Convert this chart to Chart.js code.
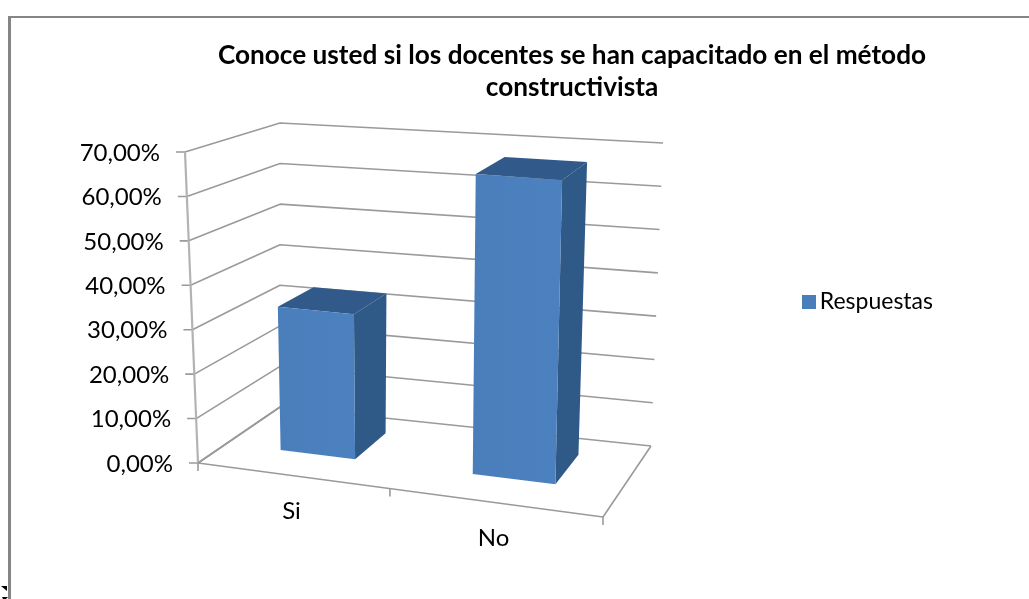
<!DOCTYPE html>
<html><head><meta charset="utf-8">
<script src="https://cdn.jsdelivr.net/npm/chart.js@4"></script>
<style>html,body{margin:0;padding:0;background:#fff;overflow:hidden}canvas{display:block;filter:blur(.4px)}</style>
</head><body><canvas id="c" width="1029" height="599"></canvas>
<script>
const categories = ['Si', 'No'];
const respuestas = [33, 67];
const seriesName = 'Respuestas';
const yMin = 0, yMax = 70, yStep = 10;
const titleLines = ['Conoce usted si los docentes se han capacitado en el método', 'constructivista'];

const FONT = 'Lato';
const SERIES_COLOR = '#4a7ebb';
const BOX = {
  flb:[198,463], frb:[603,517], blb:[280,407], brb:[651,446],
  flt:[185,152], frt:[612,187], blt:[280,123], brt:[663,143]
};
const PERSPECTIVE = 1.11;
function project(u0, v, w){
  const u=u0/(u0+(1-u0)*PERSPECTIVE);
  const m=(a,b,t)=>[a[0]+(b[0]-a[0])*t, a[1]+(b[1]-a[1])*t];
  const fb=m(BOX.flb,BOX.frb,u), bb=m(BOX.blb,BOX.brb,u), ft=m(BOX.flt,BOX.frt,u), bt=m(BOX.blt,BOX.brt,u);
  return m(m(fb,bb,w), m(ft,bt,w), v);
}
function poly(ctx, pts, fill){
  ctx.beginPath(); pts.forEach((p,i)=>i?ctx.lineTo(p[0],p[1]):ctx.moveTo(p[0],p[1])); ctx.closePath();
  ctx.fillStyle=fill; ctx.fill();
}
function line(ctx, pts, color, width){
  ctx.beginPath(); pts.forEach((p,i)=>i?ctx.lineTo(p[0],p[1]):ctx.moveTo(p[0],p[1]));
  ctx.strokeStyle=color; ctx.lineWidth=width; ctx.stroke();
}
const GRID='#9a9a9a';
const box3d = {
  id:'box3d',
  beforeDraw(chart){
    const ctx=chart.ctx; ctx.save();
    ctx.fillStyle='#fff'; ctx.fillRect(0,0,chart.width,chart.height);
    ctx.fillStyle='#858585';
    ctx.fillRect(8,16,chart.width-8,2);
    ctx.fillRect(8,16,3,chart.height-16);
    poly(ctx,[[1,586],[7,586],[7,591]],'#000');
    poly(ctx,[[2,597],[8,597],[6,599],[3,599]],'#000');
    ctx.restore();
  },
  beforeDatasetsDraw(chart){
    const ctx=chart.ctx, ys=chart.scales.y, xs=chart.scales.x, a=chart.chartArea;
    const vOf=val=>(a.bottom-ys.getPixelForValue(val))/(a.bottom-a.top);
    ctx.save();
    ctx.lineJoin='round';
    ys.ticks.forEach(t=>{
      const v=vOf(t.value);
      const p0=project(0,v,0);
      line(ctx,[[p0[0]-9,p0[1]],p0,project(0,v,1),project(1,v,1)],GRID,1.6);
      ctx.fillStyle='#000'; ctx.font='24px '+FONT; ctx.textAlign='right'; ctx.textBaseline='middle';
      ctx.fillText(t.label,p0[0]-25,p0[1]+1);
    });
    line(ctx,[project(0,0,0),project(0,1,0)],'#b3b3b3',2.2);
    line(ctx,[project(0,0,0),project(1,0,0),project(1,0,1)],GRID,1.6);
    line(ctx,[project(0,0,0),project(0,0,1)],GRID,1.6);
    xs.ticks.forEach((t,i)=>{
      const c=(xs.getPixelForTick(i)-a.left)/a.width;
      const p=project(c,0,0);
      ctx.fillStyle='#000'; ctx.font='24px '+FONT; ctx.textAlign='center'; ctx.textBaseline='middle';
      ctx.fillText(xs.getLabelForValue(t.value),p[0],p[1]+35.5);
    });
    [0,.5,1].forEach(u=>{const p=project(u,0,0);line(ctx,[p,[p[0],p[1]+8]],GRID,1.6);});
    ctx.restore();
  },
  beforeDatasetDraw(chart, args){
    const ctx=chart.ctx, a=chart.chartArea;
    const meta=args.meta;
    ctx.save();
    meta.data.forEach(bar=>{
      const {x,y,width}=bar.getProps(['x','y','width'],true);
      const u0=(x-width/2-a.left)/a.width, u1=(x+width/2-a.left)/a.width;
      const v=(a.bottom-y)/(a.bottom-a.top), w0=.35, w1=.78;
      const fa=project(u0,0,w0), fb=project(u1,0,w0), fc=project(u1,v,w0), fd=project(u0,v,w0);
      const bb=project(u1,0,w1), bc=project(u1,v,w1), bd=project(u0,v,w1);
      poly(ctx,[fb,bb,bc,fc],'#2f5986');
      poly(ctx,[fd,fc,bc,bd],'#31598a');
      const g=ctx.createLinearGradient(fd[0],0,fc[0],0);
      g.addColorStop(0,SERIES_COLOR); g.addColorStop(1,'#4c81c0');
      poly(ctx,[fa,fb,fc,fd],g);
    });
    ctx.restore();
    return false;
  },
  afterDraw(chart){
    const hb=chart.legend.legendHitBoxes[0], ctx=chart.ctx;
    ctx.save(); ctx.fillStyle=SERIES_COLOR;
    ctx.fillRect(hb.left+hb.width-111-20, hb.top+hb.height/2-7, 14, 14);
    ctx.restore();
  }
};
new Chart(document.getElementById('c'),{
  type:'bar',
  plugins:[box3d],
  data:{labels:categories,datasets:[{label:seriesName,data:respuestas,backgroundColor:SERIES_COLOR,borderWidth:0,categoryPercentage:.4,barPercentage:1}]},
  options:{
    responsive:false,animation:false,
    layout:{padding:{left:201,right:86,top:40,bottom:35}},
    plugins:{
      title:{display:true,text:titleLines,color:'#000',font:{family:FONT,size:26.2,weight:'bold',lineHeight:1.22},padding:{top:0,bottom:10}},
      legend:{position:'right',labels:{color:'#000',boxWidth:14,boxHeight:14,padding:0,font:{family:FONT,size:23},
        generateLabels:c=>[{text:c.data.datasets[0].label,fillStyle:'transparent',strokeStyle:'transparent',lineWidth:0,datasetIndex:0}]}},
      tooltip:{enabled:false}
    },
    scales:{
      x:{grid:{display:false},border:{display:false},ticks:{display:false}},
      y:{min:yMin,max:yMax,grid:{display:false},border:{display:false},
         ticks:{display:false,stepSize:yStep,callback:v=>v.toFixed(2).replace('.',',')+'%'}}
    }
  }
});
</script></body></html>
